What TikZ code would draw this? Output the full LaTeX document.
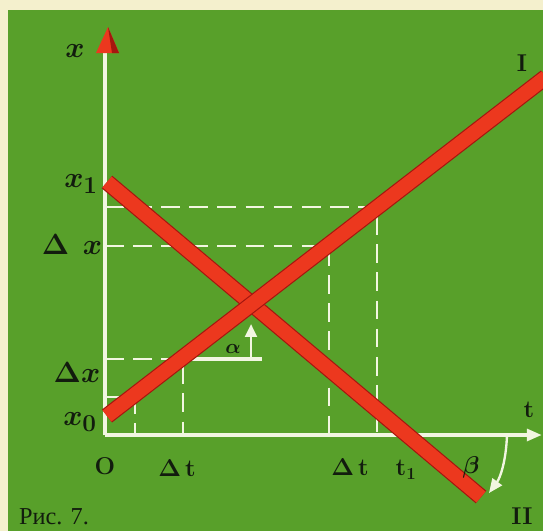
\documentclass[tikz,border=0pt]{standalone}
\usepackage{amsmath, amssymb, bm, xcolor, tikz}
\usepackage[no-math]{fontspec}
\newfontfamily\cyrfont{Liberation Serif}
\usetikzlibrary{calc, arrows.meta}
\definecolor{grass}{RGB}{88,160,42}
\definecolor{paper}{RGB}{244,240,205}
\definecolor{chalk}{RGB}{242,246,225}
\definecolor{redline}{RGB}{236,56,30}
\definecolor{rededge}{RGB}{165,22,15}
\definecolor{ink}{RGB}{18,28,14}
\tikzset{
    axisline/.style={line width=3.4pt, draw=chalk},
    guide/.style={line width=2.4pt, draw=chalk, dash pattern=on 16pt off 8pt},
    redbar/.style={line width=12pt, draw=redline},
    redshade/.style={line width=14pt, draw=rededge},
    lab/.style={text=ink, font=\huge, inner sep=0pt},
    xlab/.style={lab, font=\Huge},
}

\begin{document}
\begin{tikzpicture}[x=0.03cm, y=-0.03cm]
    \newcommand\posO{105}
    \newcommand\posT{435}

    \fill[paper] (0,0) rectangle (543,531);
    \fill[grass] (8,10) rectangle (543,531);
    \useasboundingbox (0,0) rectangle (543,531);

    \coordinate (O) at (\posO, \posT);
    \coordinate (tend) at (542, \posT);
    \coordinate (xend) at (\posO, 50);
    \draw[axisline, -{Triangle[length=13pt, width=10pt]}] (O) -- (tend);
    \draw[axisline] (O) -- (xend);
    \fill[redline] (108,27) -- (96,53) -- (119,53) -- cycle;
    \fill[rededge] (108,27) -- (112,53) -- (119,53) -- cycle;

    \coordinate (P1) at (135,397);
    \coordinate (P2) at (183,359);
    \coordinate (P3) at (329,246);
    \coordinate (P4) at (377,207);
    \draw[guide] (O |- P1) -- (P1) -- (P1 |- O);
    \draw[guide] (O |- P2) -- (P2) -- (P2 |- O);
    \draw[guide] (O |- P3) -- (P3) -- (P3 |- O);
    \draw[guide] (O |- P4) -- (P4) -- (P4 |- O);

    \coordinate (abase) at (262,359);
    \coordinate (afoot) at (251,359);
    \coordinate (atip) at (251,324);
    \draw[axisline, line width=2.6pt] (P2) -- (abase);
    \draw[chalk, line width=2.4pt, -{Triangle[length=11pt, width=10pt]}] (afoot) -- (atip);

    \coordinate (IIa) at (107,182);
    \coordinate (IIb) at (481,497);
    \coordinate (Ia) at (107,416);
    \coordinate (Ib) at (546,77);
    \draw[redshade] (IIa) -- (IIb);
    \draw[redbar] (IIa) -- (IIb);
    \draw[redshade] (Ia) -- (Ib);
    \draw[redbar] (Ia) -- (Ib);

    \coordinate (bfoot) at (507, \posT);
    \coordinate (btip) at (489,493);
    \draw[chalk, line width=2pt, -{Triangle[length=12pt, width=10pt]}] (bfoot) .. controls (506,462) and (500,478) .. (btip);

    \node[xlab] (labx) at (75,51) {$\boldsymbol{x}$};
    \node[xlab] (labx1) at (81,184) {$\boldsymbol{x}_{\mathbf{1}}$};
    \node[xlab] (labdxB) at (72,244) {$\boldsymbol{\Delta}\ \,\boldsymbol{x}$};
    \node[xlab] (labdxA) at (77,372) {$\boldsymbol{\Delta}\boldsymbol{x}$};
    \node[xlab] (labx0) at (80,422) {$\boldsymbol{x}_{\mathbf{0}}$};
    \node[lab] (labO) at (105,466) {\textbf{O}};
    \node[lab] (labdtA) at (177,468) {$\boldsymbol{\Delta}$\,\textbf{t}};
    \node[lab] (labdtB) at (350,467) {$\boldsymbol{\Delta}$\,\textbf{t}};
    \node[lab] (labt1) at (406,470) {\textbf{t}$_{\mathbf{1}}$};
    \node[lab] (labbeta) at (471,467) {$\boldsymbol{\beta}$};
    \node[lab] (labt) at (529,410) {\textbf{t}};
    \node[lab] (labI) at (522,63) {\textbf{I}};
    \node[lab] (labII) at (522,516) {\textbf{II}};
    \node[lab, font=\LARGE] (labalpha) at (233,349) {$\boldsymbol{\alpha}$};
    \node[lab, font=\huge\cyrfont] (cap) at (54,517) {Рис. 7.};
\end{tikzpicture}
\end{document}
